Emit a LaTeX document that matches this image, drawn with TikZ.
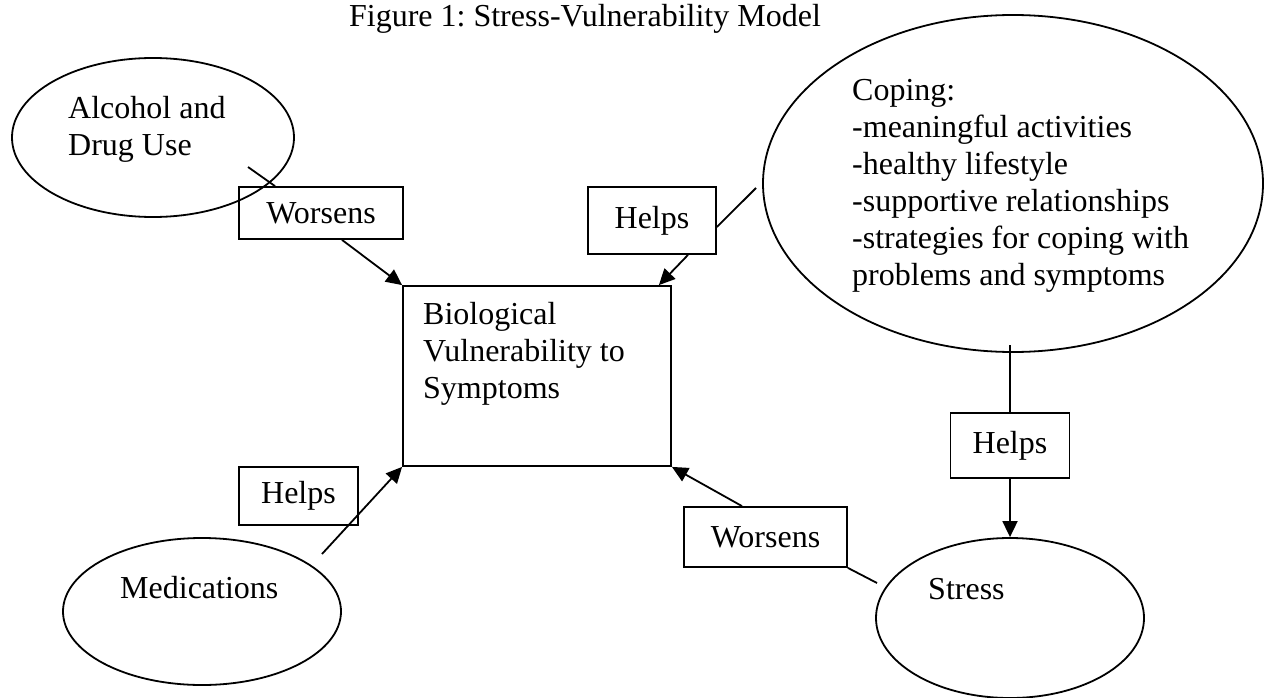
\documentclass[tikz,border=0pt]{standalone}
\usepackage{fontspec}
\setmainfont{Liberation Serif}
\usetikzlibrary{shapes}
\usetikzlibrary{arrows.meta}
\frenchspacing
\tikzset{oval/.style={draw,ellipse,line width=1.8pt,inner sep=0pt},
 lbl/.style={draw,line width=1.8pt,inner sep=0pt},
 txt/.style={anchor=north west,inner sep=0pt,align=left},
 con/.style={line width=1.8pt},
 arr/.style={line width=1.8pt,-{Triangle[length=16pt,width=15pt]}},
 }

\begin{document}
\begin{tikzpicture}[x=1pt,y=-1pt,font=\fontsize{32pt}{37pt}\selectfont]
        \useasboundingbox (0,0) rectangle (1279,698);
        \node[anchor=base] (title) at (585,27) {Figure 1: Stress-Vulnerability Model};
        % shapes
        \node[oval, minimum width=282pt, minimum height=159pt] (alc) at (153,137.5) {};
        \node[txt] (alcText) at (68,92) {\strut Alcohol and\\\strut Drug Use};
        \node[oval, minimum width=500pt, minimum height=337pt] (cope) at (1013,183.5) {};
        \node[txt] (copeText) at (852,74) {\strut Coping:\\\strut -meaningful activities\\\strut -healthy lifestyle\\\strut -supportive relationships\\\strut -strategies for coping with\\\strut problems and symptoms};
        \node[oval, minimum width=278pt, minimum height=147pt] (med) at (202,611.5) {};
        \node[txt] (medText) at (120,572) {\strut Medications};
        \node[oval, minimum width=268pt, minimum height=160pt] (stress) at (1010,618) {};
        \node[txt] (stressText) at (928,573) {\strut Stress};
        \node[lbl, minimum width=268pt, minimum height=180pt] (bio) at (537,376) {};
        \node[txt] (bioText) at (423,298) {\strut Biological\\\strut Vulnerability to\\\strut Symptoms};
        % labels
        \node[lbl, minimum width=164pt, minimum height=52pt] (wTop) at (321,213) {Worsens};
        \node[lbl, minimum width=128pt, minimum height=67pt] (hTop) at (652,220.5) {Helps};
        \node[lbl, minimum width=119pt, minimum height=65pt] (hRight) at (1010,445.5) {Helps};
        \node[lbl, minimum width=119pt, minimum height=58pt] (hLeft) at (298.5,496) {Helps};
        \node[lbl, minimum width=163pt, minimum height=60pt] (wBot) at (765.5,537) {Worsens};
        % connectors
        \coordinate (alcTail) at (248,167);
        \coordinate (copeTail) at (756,188);
        \coordinate (copeFoot) at (1010,345);
        \coordinate (medTail) at (322,554);
        \coordinate (stressTail) at (877,583);
        \draw[con] (alcTail) -- ([xshift=-46pt]wTop.north);
        \draw[arr] ([xshift=21pt]wTop.south) -- (bio.north west);
        \draw[con] (copeTail) -- ([yshift=-6.5pt]hTop.east);
        \draw[arr] ([xshift=36pt]hTop.south) -- ([xshift=-13pt]bio.north east);
        \draw[con] (copeFoot) -- (hRight.north);
        \draw[arr] (hRight.south) -- (stress.north);
        \draw[arr] (medTail) -- (bio.south west);
        \draw[con] (stressTail) -- (wBot.south east);
        \draw[arr] ([xshift=-23.5pt]wBot.north) -- (bio.south east);
    \end{tikzpicture}
\end{document}
